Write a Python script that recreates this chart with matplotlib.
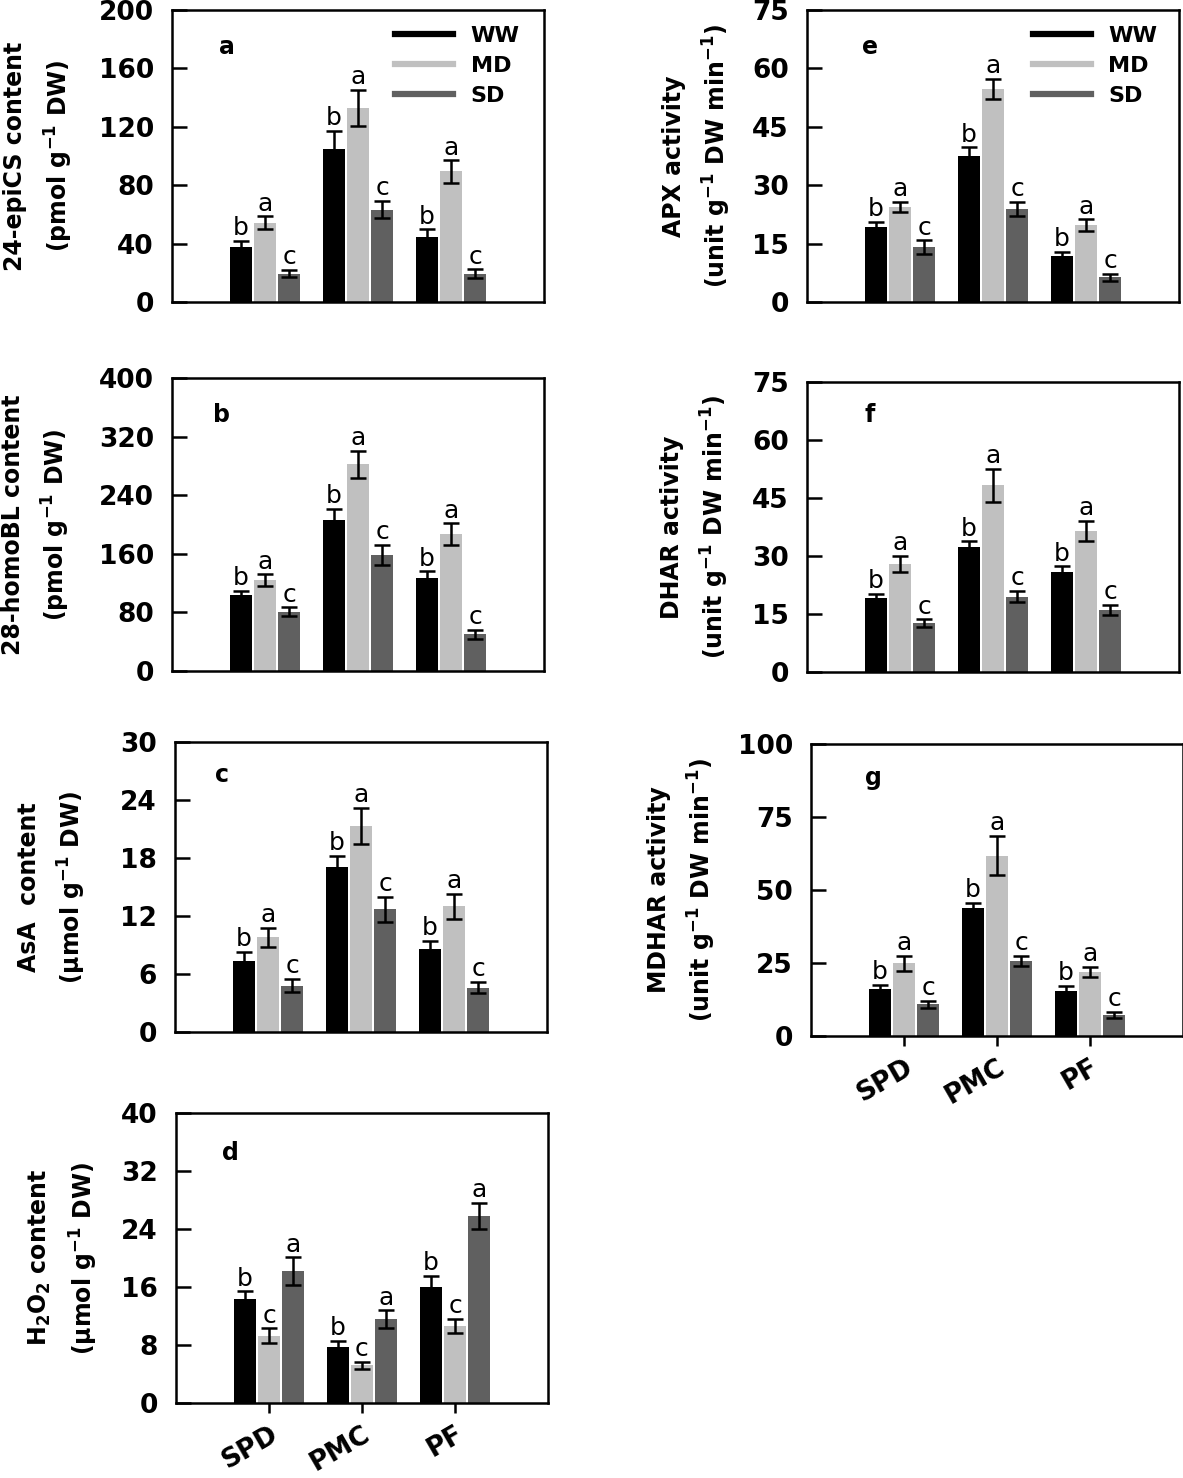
"""
Brassinosteroids, AsA / H2O2 and antioxidant enzyme activities in three tissues
(SPD, PMC, PF) under well-watered (WW), moderate (MD) and severe drought (SD).
Seven bar panels a-g on one page, values read off the published figure.
"""
import matplotlib
matplotlib.use("Agg")
import matplotlib.pyplot as plt
from matplotlib.lines import Line2D
import numpy as np

plt.rcParams["font.family"] = "DejaVu Sans"
plt.rcParams["font.weight"] = "bold"
plt.rcParams["axes.labelweight"] = "bold"
plt.rcParams["mathtext.default"] = "bf"

sites = ["SPD", "PMC", "PF"]
treatments = ["WW", "MD", "SD"]
colors = ["#000000", "#c0c0c0", "#606060"]

# rows = WW, MD, SD ; columns = SPD, PMC, PF
epics_mean = [[37.7, 104.5, 44.8], [54.4, 133.0, 89.4], [19.4, 63.3, 19.4]]
epics_err = [[4.0, 12.5, 5.0], [4.3, 12.5, 7.7], [2.5, 6.0, 3.0]]

homobl_mean = [[103.4, 205.5, 126.7], [124.4, 282.0, 186.8], [81.1, 158.5, 50.1]]
homobl_err = [[6.4, 16.0, 9.5], [7.7, 19.0, 14.6], [5.9, 13.3, 5.9]]

asa_mean = [[7.3, 17.1, 8.6], [9.8, 21.3, 13.0], [4.8, 12.7, 4.6]]
asa_err = [[1.0, 1.1, 0.8], [1.0, 1.9, 1.3], [0.7, 1.3, 0.6]]

h2o2_mean = [[14.3, 7.7, 16.0], [9.3, 5.2, 10.6], [18.2, 11.6, 25.8]]
h2o2_err = [[1.1, 0.9, 1.5], [1.0, 0.5, 1.0], [1.9, 1.2, 1.8]]

apx_mean = [[19.2, 37.4, 11.7], [24.4, 54.7, 19.7], [14.1, 23.9, 6.4]]
apx_err = [[1.3, 2.3, 1.1], [1.3, 2.6, 1.5], [1.7, 1.8, 0.9]]

dhar_mean = [[19.1, 32.2, 25.8], [27.9, 48.3, 36.5], [12.6, 19.5, 16.1]]
dhar_err = [[1.1, 1.6, 1.5], [2.1, 4.3, 2.6], [1.0, 1.5, 1.3]]

mdhar_mean = [[16.0, 43.7, 15.5], [24.9, 61.8, 22.0], [10.8, 25.8, 7.2]]
mdhar_err = [[1.5, 2.0, 1.7], [2.5, 6.7, 1.7], [1.3, 1.7, 1.1]]

letters_std = ["b", "a", "c"]
letters_h2o2 = ["b", "c", "a"]

W, H = 1183, 1478
AX_W = 372
BAR_W = 0.237
OFFSET = 0.263

# (left, top, bottom) in pixels, ymax, step, ylabel, tag, tag pos, label x
panels = [
    ((172, 10, 302), epics_mean, epics_err, letters_std, 200, 40,
     "24-epiCS content\n(pmol g$^{-1}$ DW)", "a", (0.148, 0.873), -0.262, False, 0.60),
    ((172, 378, 671), homobl_mean, homobl_err, letters_std, 400, 80,
     "28-homoBL content\n(pmol g$^{-1}$ DW)", "b", (0.132, 0.874), -0.268, False, None),
    ((175, 742, 1032), asa_mean, asa_err, letters_std, 30, 6,
     "AsA  content\n(μmol g$^{-1}$ DW)", "c", (0.126, 0.886), -0.235, False, None),
    ((176, 1113, 1403), h2o2_mean, h2o2_err, letters_h2o2, 40, 8,
     "H$_2$O$_2$ content\n(μmol g$^{-1}$ DW)", "d", (0.145, 0.862), -0.205, True, None),
    ((807, 10, 302), apx_mean, apx_err, letters_std, 75, 15,
     "APX activity\n(unit g$^{-1}$ DW min$^{-1}$)", "e", (0.169, 0.873), -0.2, False, 0.607),
    ((807, 382, 672), dhar_mean, dhar_err, letters_std, 75, 15,
     "DHAR activity\n(unit g$^{-1}$ DW min$^{-1}$)", "f", (0.169, 0.886), -0.205, False, None),
    ((811, 744, 1036), mdhar_mean, mdhar_err, letters_std, 100, 25,
     "MDHAR activity\n(unit g$^{-1}$ DW min$^{-1}$)", "g", (0.169, 0.884), -0.25, True, None),
]


def draw_panel(fig, rect, mean, err, letters, ymax, step, ylabel, tag, tag_xy,
               label_x, show_x, legend_x):
    left, top, bottom = rect
    ax = fig.add_axes([left / W, 1 - bottom / H, AX_W / W, (bottom - top) / H])
    x = np.arange(1, len(sites) + 1)
    for i, (m, e, c) in enumerate(zip(mean, err, colors)):
        pos = x + (i - 1) * OFFSET
        ax.bar(pos, m, width=BAR_W, color=c, zorder=2)
        ax.errorbar(pos, m, yerr=e, fmt="none", ecolor="black", elinewidth=1.8,
                    capsize=6, capthick=1.8, zorder=3)
        tops = np.array(m) + np.array(e)
        for px, t in zip(pos, tops):
            ax.annotate(letters[i], (px, t), xytext=(0, 0.5), textcoords="offset points",
                        ha="center", va="bottom", fontsize=18, fontweight="normal")

    ax.set_xlim(0, 4)
    ax.set_ylim(0, ymax)
    ax.set_yticks(np.arange(0, ymax + step / 2, step))
    ax.set_xticks(x)
    ax.tick_params(axis="y", direction="in", length=11, width=1.8, pad=13, labelsize=19)
    if show_x:
        ax.set_xticklabels(sites, rotation=30, ha="right", va="top",
                           rotation_mode="anchor", fontsize=19)
        ax.tick_params(axis="x", direction="out", length=7, width=1.8, pad=6)
    else:
        ax.set_xticklabels([])
        ax.tick_params(axis="x", length=0)
    for s in ax.spines.values():
        s.set_linewidth(1.8)

    ax.set_ylabel(ylabel, fontsize=17, linespacing=1.6)
    ax.yaxis.set_label_coords(label_x, 0.5)
    ax.text(tag_xy[0], tag_xy[1], tag, transform=ax.transAxes, ha="center",
            va="center", fontsize=17, fontweight="bold")

    if legend_x is not None:
        handles = [Line2D([], [], color=c, lw=4.5) for c in colors]
        ax.legend(handles, treatments, frameon=False, loc="upper left",
                  bbox_to_anchor=(legend_x, 0.945), handlelength=2.6, handletextpad=0.8,
                  labelspacing=0.45, borderpad=0, borderaxespad=0,
                  prop={"weight": "bold", "size": 16})
    return ax


def main():
    fig = plt.figure(figsize=(W / 100, H / 100), dpi=100)
    for p in panels:
        draw_panel(fig, *p)
    fig.savefig("out.png", dpi=100)
    plt.close(fig)


if __name__ == "__main__":
    main()
